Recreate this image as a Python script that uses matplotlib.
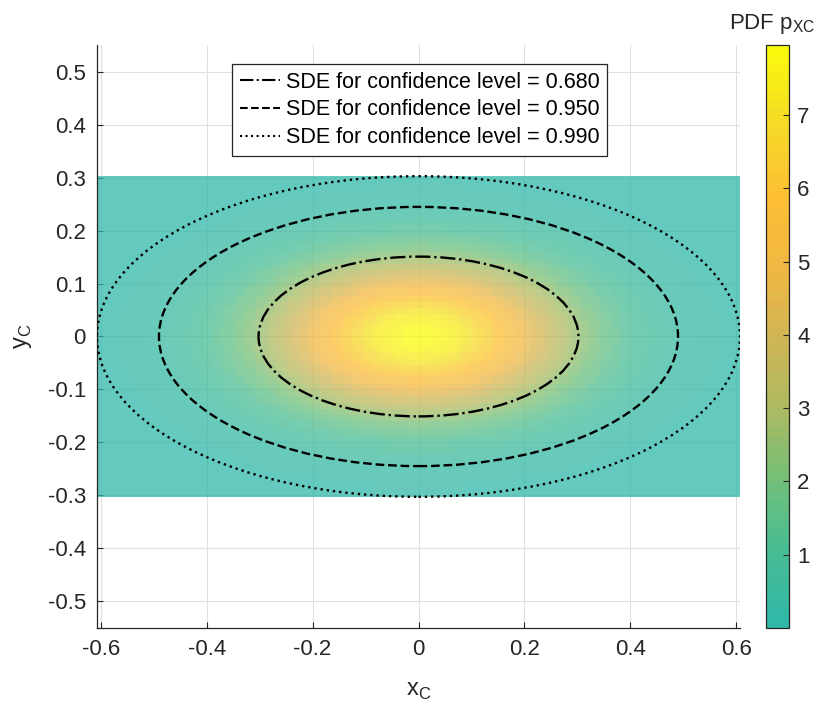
import numpy as np
import matplotlib
matplotlib.use("Agg")
import matplotlib.pyplot as plt
from matplotlib.colors import LinearSegmentedColormap, ListedColormap
from matplotlib.patches import Ellipse
from matplotlib.lines import Line2D

plt.rcParams["font.family"] = ["Liberation Sans", "DejaVu Sans"]

# distribution parameters
sigma_x = 0.2
sigma_y = 0.1
x_extent = 0.607
y_extent = 0.303

# confidence ellipses: semi-axes
conf_levels = [0.680, 0.950, 0.990]
semi_a = [0.302, 0.490, 0.607]
semi_b = [0.151, 0.245, 0.303]
styles = ["-.", "--", ":"]

cbar_ticks = [1, 2, 3, 4, 5, 6, 7]
x_ticks = [-0.6, -0.4, -0.2, 0, 0.2, 0.4, 0.6]
y_ticks = [-0.5, -0.4, -0.3, -0.2, -0.1, 0, 0.1, 0.2, 0.3, 0.4, 0.5]

# upper half of a parula-like map
cmap_pts = [
    (0.19, 0.72, 0.66),
    (0.28, 0.74, 0.58),
    (0.45, 0.75, 0.47),
    (0.68, 0.73, 0.38),
    (0.82, 0.71, 0.33),
    (0.95, 0.72, 0.26),
    (0.99, 0.75, 0.20),
    (0.96, 0.86, 0.15),
    (0.98, 0.98, 0.05),
]
base = LinearSegmentedColormap.from_list("parula_hi", cmap_pts)
cmap = ListedColormap(base(np.linspace(0, 1, 64)))

# cell edges and centres of the PDF grid
xe = np.linspace(-x_extent, x_extent, 102)
ye = np.linspace(-y_extent, y_extent, 52)
xc = 0.5 * (xe[:-1] + xe[1:])
yc = 0.5 * (ye[:-1] + ye[1:])
XC, YC = np.meshgrid(xc, yc)
pdf = np.exp(-0.5 * ((XC / sigma_x) ** 2 + (YC / sigma_y) ** 2)) / (2 * np.pi * sigma_x * sigma_y)
vmax = 1 / (2 * np.pi * sigma_x * sigma_y)

fig = plt.figure(figsize=(8.22, 7.09), dpi=100)
ax = fig.add_axes([97 / 822, 1 - 628 / 709, 643 / 822, 583 / 709])
cax = fig.add_axes([766 / 822, 1 - 628 / 709, 23 / 822, 583 / 709])

txt = "#262626"
ax.set_axisbelow(True)
ax.grid(True, color="#e0e0e0", linewidth=0.8)
mesh = ax.pcolormesh(xe, ye, pdf, cmap=cmap, vmin=0, vmax=vmax, shading="flat",
                     alpha=0.75, linewidth=0, antialiased=False)

handles = []
for p, a, b, ls in zip(conf_levels, semi_a, semi_b, styles):
    ax.add_patch(Ellipse((0, 0), 2 * a, 2 * b, fill=False, edgecolor="black",
                         linestyle=ls, linewidth=1.7, zorder=3))
    handles.append(Line2D([], [], color="black", linestyle=ls, linewidth=1.5,
                          label=f"SDE for confidence level = {p:.3f}"))

ax.set_xlim(-0.607, 0.607)
ax.set_ylim(-0.551, 0.551)
ax.set_xticks(x_ticks)
ax.set_xticklabels(["-0.6", "-0.4", "-0.2", "0", "0.2", "0.4", "0.6"])
ax.set_yticks(y_ticks)
ax.set_yticklabels(["-0.5", "-0.4", "-0.3", "-0.2", "-0.1", "0", "0.1", "0.2", "0.3", "0.4", "0.5"])
ax.tick_params(direction="in", length=4, width=0.8, color=txt, labelcolor=txt,
               labelsize=16, pad=8)
for s in ["top", "right"]:
    ax.spines[s].set_visible(False)
for s in ["left", "bottom"]:
    ax.spines[s].set_color(txt)
    ax.spines[s].set_linewidth(0.9)
ax.set_xlabel(r"x$_\mathregular{C}$", fontsize=17, color=txt, labelpad=14)
ax.set_ylabel(r"y$_\mathregular{C}$", fontsize=17, color=txt, labelpad=10)

leg = ax.legend(handles=handles, loc="upper left", bbox_to_anchor=(232 / 822, 1 - 64 / 709),
                bbox_transform=fig.transFigure, borderaxespad=0, fontsize=15.5,
                handlelength=1.9, handletextpad=0.25, labelspacing=0.32,
                fancybox=False, framealpha=1, edgecolor="#262626",
                borderpad=0.35)
leg.get_frame().set_linewidth(0.9)

cb = fig.colorbar(mesh, cax=cax, ticks=cbar_ticks)
cb.solids.set_alpha(1)
cb.outline.set_edgecolor(txt)
cb.outline.set_linewidth(0.9)
cax.tick_params(direction="in", length=4, width=0.8, color=txt, labelcolor=txt,
                labelsize=16, pad=6)
fig.text(772 / 822, 1 - 24 / 709, r"PDF p$_\mathregular{XC}$", fontsize=16, color=txt,
         ha="center", va="center")

fig.savefig("out.png", dpi=100)
